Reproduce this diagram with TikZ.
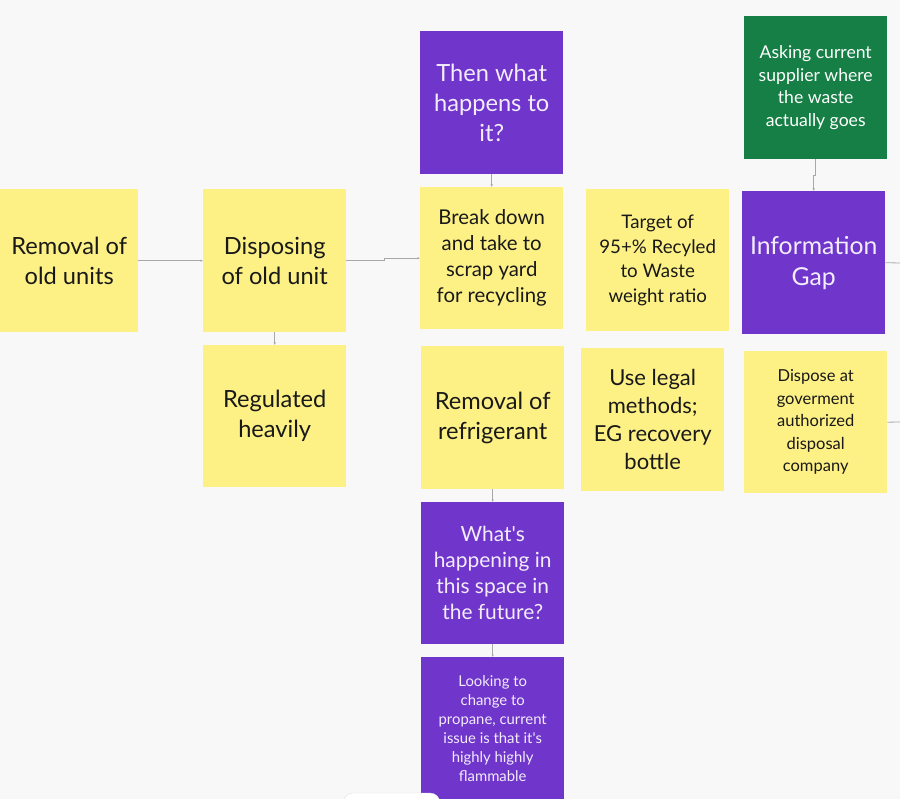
\documentclass[tikz,border=0pt]{standalone}
\usepackage{fontspec}
\setmainfont{Lato}[Scale=1.1]
\usetikzlibrary{arrows.meta}
\definecolor{bg}{HTML}{F8F8F8}
\definecolor{sticky}{HTML}{FDF186}
\definecolor{violet}{HTML}{7035CB}
\definecolor{forest}{HTML}{167F45}
\definecolor{conn}{HTML}{A8A8A8}
\definecolor{lav}{HTML}{F2ECFB}
\begin{document}
\begin{tikzpicture}[x=1pt,y=-1pt,
  note/.style={minimum width=143pt, minimum height=143pt, inner sep=0pt, align=center, anchor=north west},
  ynote/.style={note, fill=sticky, text=black!90},
  pnote/.style={note, fill=violet, text=lav},
  gnote/.style={note, fill=forest, text=white},
  big/.style={font=\fontsize{21.5}{30}\selectfont},
  link/.style={draw=conn, line width=0.8pt, -{Latex[length=2.5pt,width=2.5pt]}},
  edge/.style={draw=conn, line width=0.8pt},
]
\fill[bg] (0,0) rectangle (900,799);
\useasboundingbox (0,0) rectangle (900,799);

\node[ynote, big, minimum width=138pt] (A) at (0,189) {Removal of\\old units};
\node[ynote, big] (B) at (203,189) {Disposing\\of old unit};
\node[ynote, big, minimum height=142pt] (C) at (203,345) {Regulated\\heavily};
\node[pnote, big] (D) at (420,31) {Then what\\happens to\\it?};
\node[ynote, minimum height=142pt, font=\fontsize{18.5}{26}\selectfont] (E) at (420,187) {Break down\\and take to\\scrap yard\\for recycling};
\node[ynote, big] (F) at (421,346) {Removal of\\refrigerant};
\node[pnote, minimum height=142pt, font=\fontsize{19}{26}\selectfont] (G) at (421,502) {What\textquotesingle s\\happening in\\this space in\\the future?};
\node[pnote, minimum height=142pt, font=\fontsize{13.5}{19}\selectfont] (H) at (421,657) {Looking to\\change to\\propane, current\\issue is that it\textquotesingle s\\highly highly\\flammable};
\node[ynote, minimum height=142pt, font=\fontsize{17}{24.5}\selectfont] (I) at (586,189) {Target of\\95+\% Recyled\\to Waste\\weight ratio};
\node[ynote, font=\fontsize{20}{28}\selectfont] (J) at (581,348) {Use legal\\methods;\\EG recovery\\bottle};
\node[gnote, font=\fontsize{16}{22.7}\selectfont] (K) at (744,16) {Asking current\\supplier where\\the waste\\actually goes};
\node[pnote, font=\fontsize{22.5}{31}\selectfont] (L) at (742,191) {Information\\Gap};
\node[ynote, minimum height=142pt, font=\fontsize{15}{22.5}\selectfont] (M) at (744,351) {Dispose at\\goverment\\authorized\\disposal\\company};

\coordinate (Lout) at (900,263);
\coordinate (Mout) at (900,422);

\draw[link] (A.east) -- (B.west);
\draw[link] (B.east) -- ++(38,0) |- (E.west);
\draw[link] (B.south) -- (C.north);
\draw[link] (D.south) -- (E.north);
\draw[link] (F.south) -- (G.north);
\draw[link] (G.south) -- (H.north);
\draw[link] (K.south) -- ++(0,16) -| (L.north);
\draw[edge] (L.east) -- (Lout);
\draw[edge] (M.east) -- (Mout);

\draw[draw=black!12, fill=white, rounded corners=10pt] (343,793) rectangle (440,820);
\end{tikzpicture}
\end{document}
